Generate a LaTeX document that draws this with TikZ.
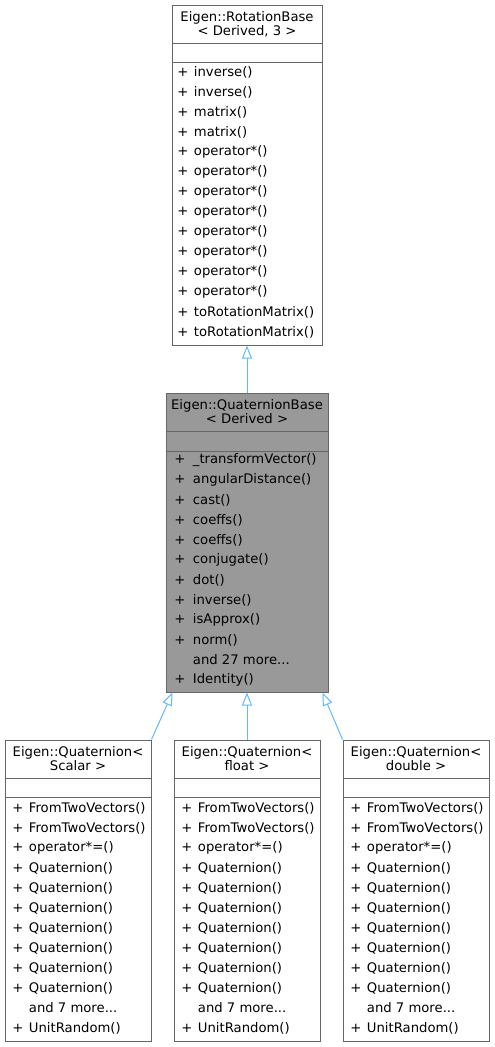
\documentclass[tikz,border=0pt]{standalone}
\usepackage{fontspec}
\setmainfont{DejaVu Sans}
\usetikzlibrary{arrows.meta}
\definecolor{edgeblue}{HTML}{63B8FF}
\definecolor{boxline}{HTML}{666666}
\definecolor{basefill}{HTML}{999999}
\tikzset{
  cls/.style={draw=boxline, fill=white, inner sep=0, line width=0.75pt},
  title/.style={align=center, inner sep=0, font=\fontsize{9.9pt}{10.5pt}\selectfont},
  mem/.style={anchor=west, inner sep=0, font=\fontsize{9.9pt}{10.5pt}\selectfont},
  inherit/.style={draw=edgeblue, line width=0.75pt, -{Triangle[open, length=9.75pt, width=7.5pt]}},
}
\newcommand{\pl}{\makebox[12.5pt][l]{+}}
\newcommand{\plb}{\makebox[14pt][l]{+}}
\newcommand{\nopl}{\makebox[12.5pt][l]{}}
\newcommand{\noplb}{\makebox[14pt][l]{}}
\begin{document}
\begin{tikzpicture}[x=0.75pt, y=-0.75pt]
      \useasboundingbox (0,0) rectangle (495,1047);
      % class boxes
      \node[cls, minimum width=112.5pt, minimum height=255pt] (rot) at (247,175) {};
      \node[cls, fill=basefill, minimum width=121.5pt, minimum height=224.25pt] (base) at (247,542.5) {};
      \node[cls, minimum width=109.5pt, minimum height=225.75pt] (qscalar) at (78,890.5) {};
      \node[cls, minimum width=109.5pt, minimum height=225.75pt] (qfloat) at (247,890.5) {};
      \node[cls, minimum width=109.5pt, minimum height=225.75pt] (qdouble) at (416,890.5) {};
      % compartments
      \begin{scope}[draw=boxline, line width=0.75pt]
        \draw (rot.west |- 0,43) -- (rot.east |- 0,43);
        \draw (rot.west |- 0,62) -- (rot.east |- 0,62);
        \draw (base.west |- 0,431) -- (base.east |- 0,431);
        \draw (base.west |- 0,451) -- (base.east |- 0,451);
        \draw (qscalar.west |- 0,778) -- (qscalar.east |- 0,778);
        \draw (qscalar.west |- 0,797) -- (qscalar.east |- 0,797);
        \draw (qfloat.west |- 0,778) -- (qfloat.east |- 0,778);
        \draw (qfloat.west |- 0,797) -- (qfloat.east |- 0,797);
        \draw (qdouble.west |- 0,778) -- (qdouble.east |- 0,778);
        \draw (qdouble.west |- 0,797) -- (qdouble.east |- 0,797);
      \end{scope}
      % titles
      \node[title] (rottitle) at (247,24) {Eigen::RotationBase\\< Derived, 3 >};
      \node[title] (basetitle) at (247,412) {Eigen::QuaternionBase\\< Derived >};
      \node[title] (qscalartitle) at (78,759) {Eigen::Quaternion<\\Scalar >};
      \node[title] (qfloattitle) at (247,759) {Eigen::Quaternion<\\float >};
      \node[title] (qdoubletitle) at (416,759) {Eigen::Quaternion<\\double >};
      % members
      \draw
        (177,72) node[mem] (r1){\pl inverse()}
        (177,92) node[mem] (r2){\pl inverse()}
        (177,112) node[mem] (r3){\pl matrix()}
        (177,132) node[mem] (r4){\pl matrix()}
        (177,152) node[mem] (r5){\pl operator*()}
        (177,172) node[mem] (r6){\pl operator*()}
        (177,192) node[mem] (r7){\pl operator*()}
        (177,212) node[mem] (r8){\pl operator*()}
        (177,232) node[mem] (r9){\pl operator*()}
        (177,252) node[mem] (r10){\pl operator*()}
        (177,272) node[mem] (r11){\pl operator*()}
        (177,292) node[mem] (r12){\pl operator*()}
        (177,312) node[mem] (r13){\pl toRotationMatrix()}
        (177,332) node[mem] (r14){\pl toRotationMatrix()};
      \draw
        (174,460) node[mem] (b1){\plb \_transformVector()}
        (174,480) node[mem] (b2){\plb angularDistance()}
        (174,500) node[mem] (b3){\plb cast()}
        (174,520) node[mem] (b4){\plb coeffs()}
        (174,540) node[mem] (b5){\plb coeffs()}
        (174,560) node[mem] (b6){\plb conjugate()}
        (174,580) node[mem] (b7){\plb dot()}
        (174,600) node[mem] (b8){\plb inverse()}
        (174,620) node[mem] (b9){\plb isApprox()}
        (174,640) node[mem] (b10){\plb norm()}
        (174,660) node[mem] (b11){\noplb and 27 more...}
        (174,680) node[mem] (b12){\plb Identity()};
      \draw
        (12,808) node[mem] (s1){\pl FromTwoVectors()}
        (12,828) node[mem] (s2){\pl FromTwoVectors()}
        (12,848) node[mem] (s3){\pl operator*=()}
        (12,868) node[mem] (s4){\pl Quaternion()}
        (12,888) node[mem] (s5){\pl Quaternion()}
        (12,908) node[mem] (s6){\pl Quaternion()}
        (12,928) node[mem] (s7){\pl Quaternion()}
        (12,948) node[mem] (s8){\pl Quaternion()}
        (12,968) node[mem] (s9){\pl Quaternion()}
        (12,988) node[mem] (s10){\pl Quaternion()}
        (12,1008) node[mem] (s11){\nopl and 7 more...}
        (12,1028) node[mem] (s12){\pl UnitRandom()};
      \draw
        (181,808) node[mem] (f1){\pl FromTwoVectors()}
        (181,828) node[mem] (f2){\pl FromTwoVectors()}
        (181,848) node[mem] (f3){\pl operator*=()}
        (181,868) node[mem] (f4){\pl Quaternion()}
        (181,888) node[mem] (f5){\pl Quaternion()}
        (181,908) node[mem] (f6){\pl Quaternion()}
        (181,928) node[mem] (f7){\pl Quaternion()}
        (181,948) node[mem] (f8){\pl Quaternion()}
        (181,968) node[mem] (f9){\pl Quaternion()}
        (181,988) node[mem] (f10){\pl Quaternion()}
        (181,1008) node[mem] (f11){\nopl and 7 more...}
        (181,1028) node[mem] (f12){\pl UnitRandom()};
      \draw
        (350,808) node[mem] (d1){\pl FromTwoVectors()}
        (350,828) node[mem] (d2){\pl FromTwoVectors()}
        (350,848) node[mem] (d3){\pl operator*=()}
        (350,868) node[mem] (d4){\pl Quaternion()}
        (350,888) node[mem] (d5){\pl Quaternion()}
        (350,908) node[mem] (d6){\pl Quaternion()}
        (350,928) node[mem] (d7){\pl Quaternion()}
        (350,948) node[mem] (d8){\pl Quaternion()}
        (350,968) node[mem] (d9){\pl Quaternion()}
        (350,988) node[mem] (d10){\pl Quaternion()}
        (350,1008) node[mem] (d11){\nopl and 7 more...}
        (350,1028) node[mem] (d12){\pl UnitRandom()};
      % inheritance
      \coordinate (baseL) at ([xshift=5.25pt]base.south west);
      \coordinate (baseR) at ([xshift=-4.5pt]base.south east);
      \begin{scope}[inherit]
        \draw (base.north) to (rot.south);
        \draw (qscalar.north east) to (baseL);
        \draw (qfloat.north) to (base.south);
        \draw (qdouble.north west) to (baseR);
      \end{scope}
    \end{tikzpicture}
\end{document}
